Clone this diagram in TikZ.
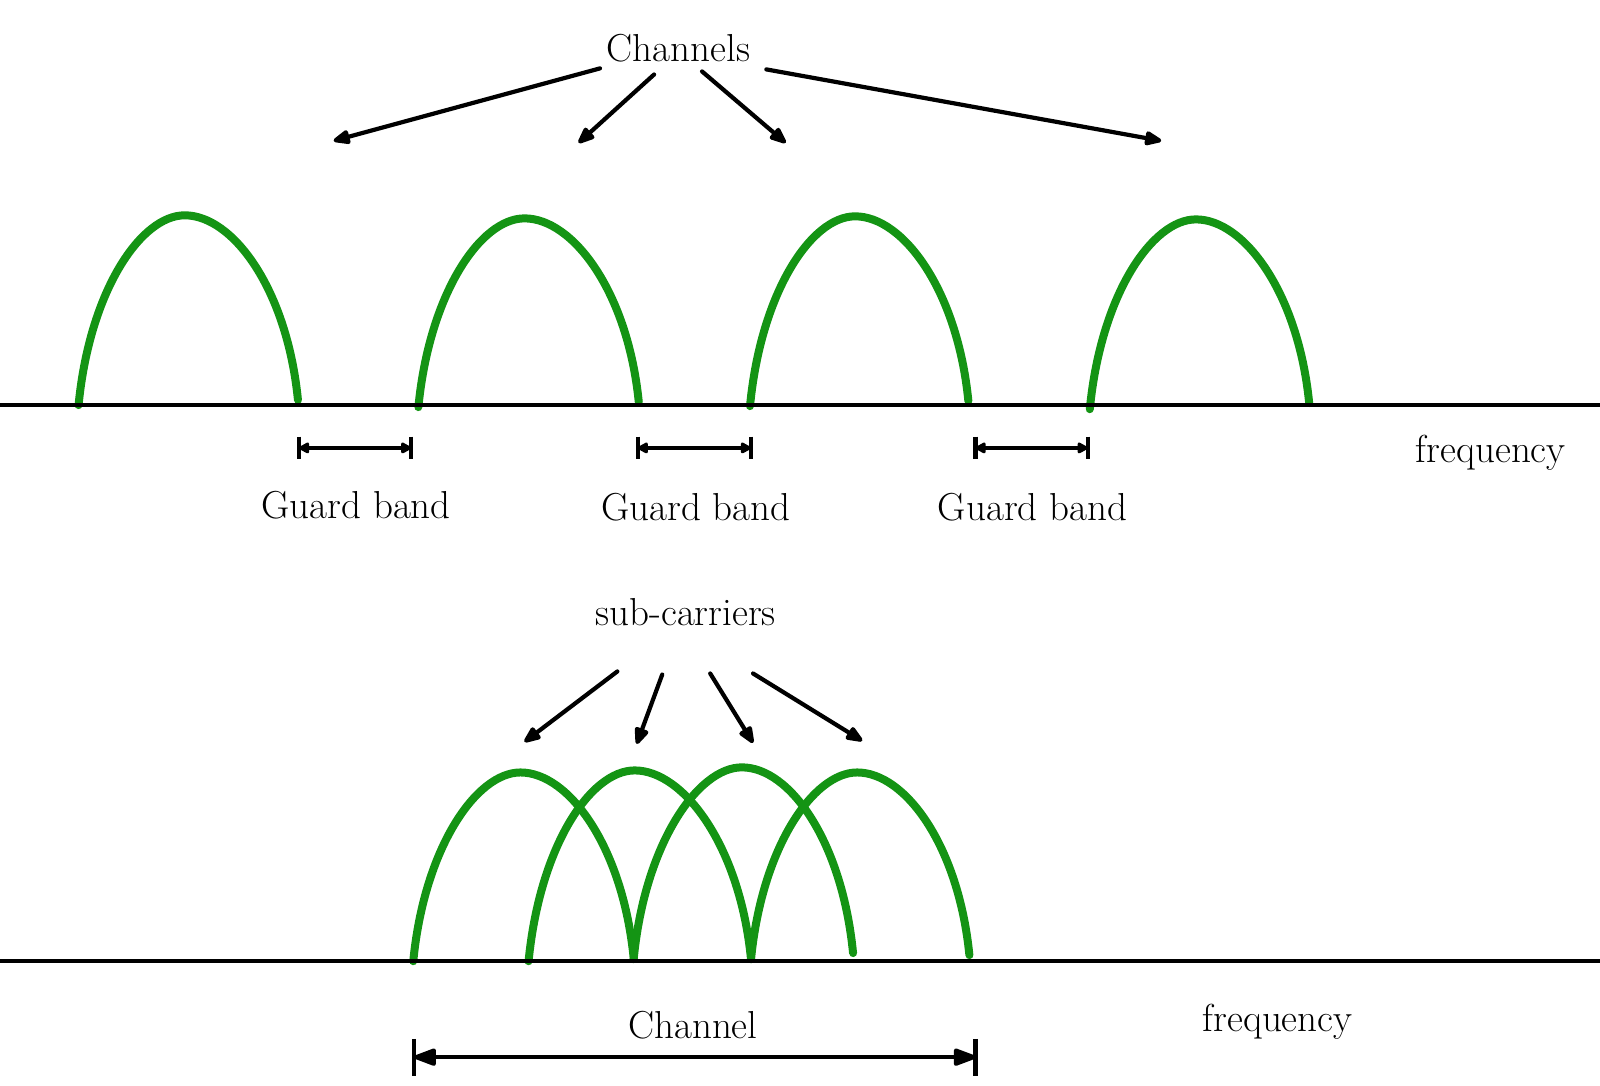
\documentclass[tikz,border=0pt]{standalone}
\usetikzlibrary{arrows.meta,calc}
\definecolor{archgreen}{HTML}{149414}
\tikzset{
  axisline/.style={line width=2.1pt,black},
  arch/.style={line width=4pt,archgreen,line cap=round},
  ptr/.style={line width=2.1pt,line cap=round,-{Triangle[length=10pt,width=7.5pt,round]}},
  gbar/.style={line width=2.1pt,{Triangle[length=6pt,width=6pt,round]}-{Triangle[length=6pt,width=6pt,round]}},
  cbar/.style={line width=2.1pt,{Triangle[length=13pt,width=9pt,round]}-{Triangle[length=13pt,width=9pt,round]}},
  tick/.style={line width=2.1pt},
  lbl/.style={font=\fontsize{19.5}{22}\selectfont,inner sep=0pt}
}
% #1 start x, #2 end x, #3 peak x, #4 peak y, #5 base y (left), #6 base y (right)
\newcommand\greenarch[6]{%
  \draw[arch] (#1,#5)
    .. controls ({#1+0.05*(#2-#1)},{#5-0.60*(#5-#4)}) and ({#3-0.20*(#2-#1)},#4) .. (#3,#4)
    .. controls ({#3+0.22*(#2-#1)},#4) and ({#2-0.05*(#2-#1)},{#6-0.60*(#6-#4)}) .. (#2,#6);}
\begin{document}
\begin{tikzpicture}[x=0.510204pt,y=-0.510204pt]
\useasboundingbox (0,0) rectangle (1568,1063.3);
% ---------- top panel ----------
\greenarch{77}{292}{181}{211}{397}{392}
\greenarch{410}{626}{514}{214}{399}{394}
\greenarch{735}{949}{838}{212}{398}{393}
\greenarch{1068}{1283}{1172}{215}{401}{395}
\draw[axisline] (0,397) -- (1568,397);

\node[lbl] (chs) at (665,47) {Channels};
\coordinate (c1) at (327,138);
\coordinate (c2) at (567,140);
\coordinate (c3) at (770,140);
\coordinate (c4) at (1138,138);
\draw[ptr] (588,67) -- (c1);
\draw[ptr] (641,73) -- (c2);
\draw[ptr] (688,70) -- (c3);
\draw[ptr] (751,68) -- (c4);

\foreach \a/\b/\n in {293/403/1,625/736/2,956/1066/3}{
  \coordinate (gl\n) at (\a,439);
  \coordinate (gr\n) at (\b,439);
  \draw[gbar] (gl\n) -- (gr\n);
  \draw[tick] ($(gl\n)+(0,-11)$) -- ($(gl\n)+(0,11)$);
  \draw[tick] ($(gr\n)+(0,-11)$) -- ($(gr\n)+(0,11)$);
}
\node[lbl] (g1) at (349,495) {Guard band};
\node[lbl] (g2) at (682,497) {Guard band};
\node[lbl] (g3) at (1012,497) {Guard band};
\node[lbl] (f1) at (1461,444) {frequency};

% ---------- bottom panel ----------
\node[lbl] (sc) at (672,600) {sub-carriers};
\coordinate (s1) at (514,727);
\coordinate (s2) at (624,729);
\coordinate (s3) at (738,728);
\coordinate (s4) at (845,726);
\draw[ptr] (605,658) -- (s1);
\draw[ptr] (649,661) -- (s2);
\draw[ptr] (696,660) -- (s3);
\draw[ptr] (738,660) -- (s4);

\greenarch{405}{621}{510}{757}{942}{939}
\greenarch{518}{736}{622}{755}{942}{940}
\greenarch{621}{836}{727}{752}{940}{934}
\greenarch{736}{950}{840}{757}{940}{936}
\draw[axisline] (0,942) -- (1568,942);

\node[lbl] (f2) at (1252,1001) {frequency};
\node[lbl] (ch) at (679,1005) {Channel};
\coordinate (cl) at (406,1036);
\coordinate (cr) at (956,1036);
\draw[cbar] (cl) -- (cr);
\draw[tick] ($(cl)+(0,-18)$) -- ($(cl)+(0,18)$);
\draw[tick] ($(cr)+(0,-18)$) -- ($(cr)+(0,18)$);
\end{tikzpicture}
\end{document}
